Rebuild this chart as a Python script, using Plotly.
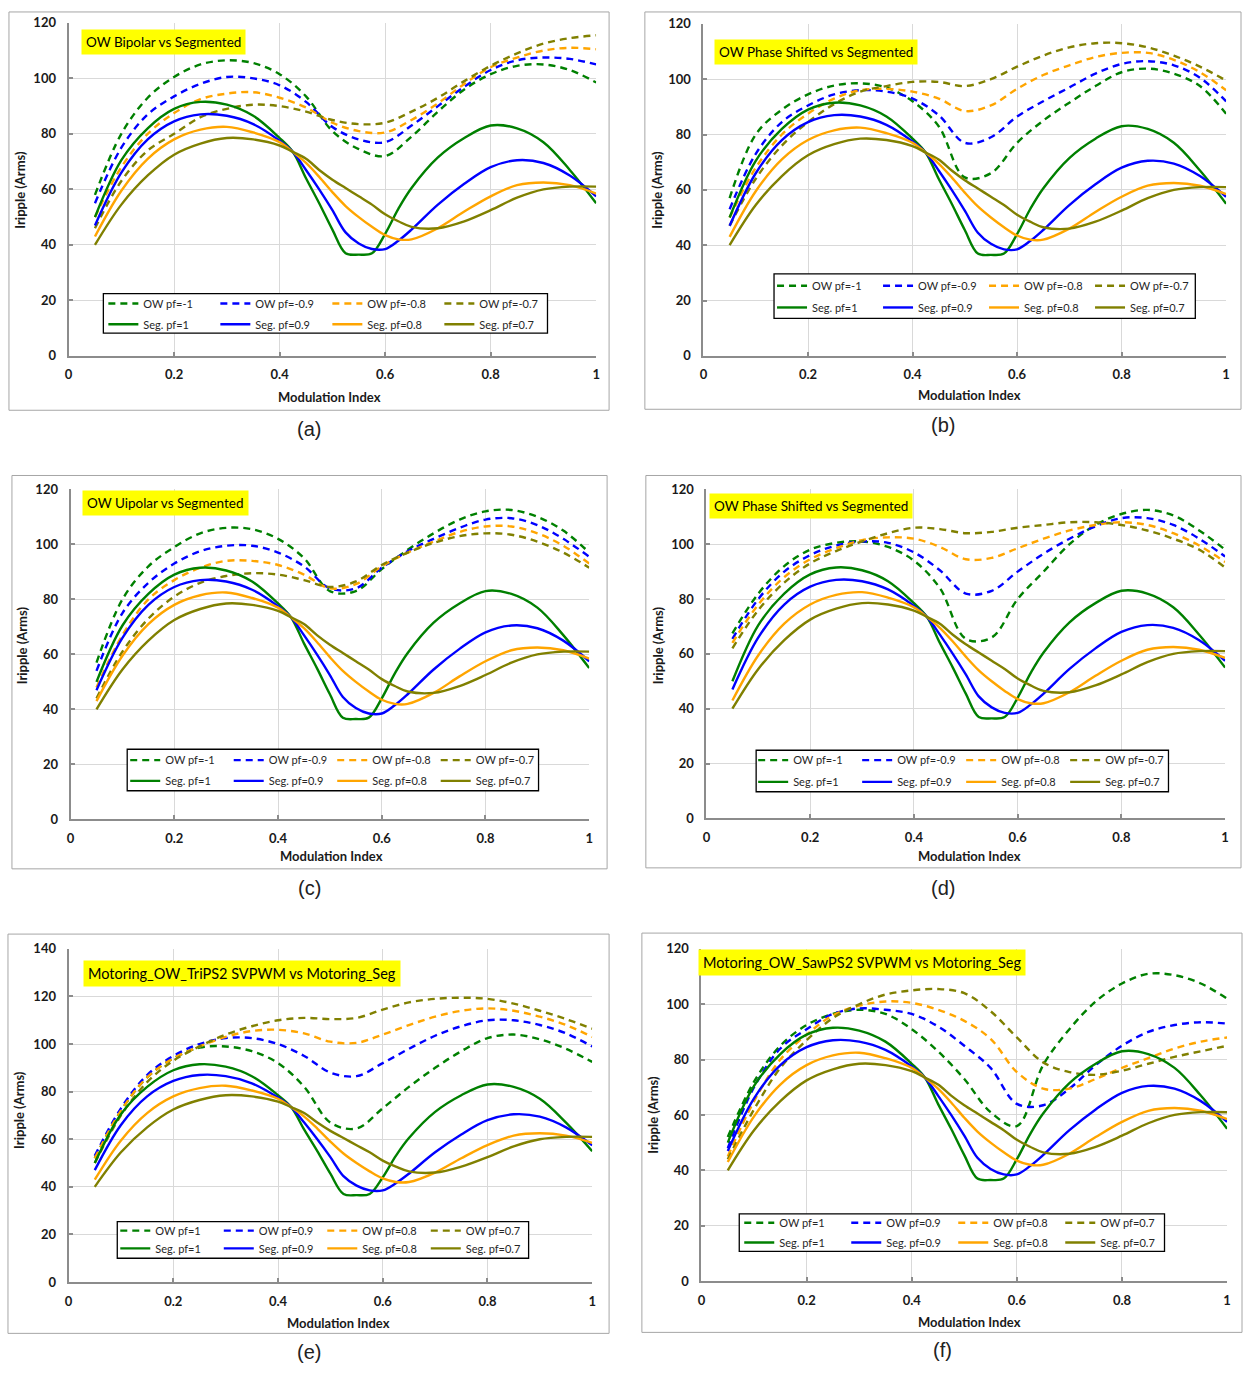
import plotly.graph_objects as go

W, H = 1247, 1373

# ---------------- data ----------------
MI = [0.05, 0.10, 0.15, 0.20, 0.25, 0.30, 0.35, 0.40, 0.45, 0.50,
      0.55, 0.60, 0.65, 0.70, 0.75, 0.80, 0.85, 0.90, 0.95, 1.00]
MI_SEG = [0.05, 0.10, 0.15, 0.20, 0.25, 0.30, 0.35, 0.40, 0.425, 0.45, 0.475, 0.50,
          0.525, 0.55, 0.575, 0.60, 0.625, 0.65, 0.70, 0.75, 0.80, 0.85, 0.90, 0.95, 1.00]

SEG_PF10 = [50, 70.5, 82, 89, 91.5, 90.5, 86.5, 78.5, 73.5, 64, 55, 45.5,
            37, 36.5, 37, 44, 53, 60.5, 71.5, 78.5, 83, 82, 77, 67, 55]
SEG_PF09 = [47, 66, 78, 84.5, 87, 86.5, 83.5, 77.5, 73.5, 67, 60, 52.5,
            44.5, 40.5, 38.5, 38.5, 41.5, 45.5, 54.5, 62, 68, 70.5, 69.5, 65, 57.5]
SEG_PF08 = [43, 59.5, 71, 78, 81.5, 82.5, 80.5, 77, 73.5, 69.5, 64.5, 59,
            54, 50, 46.5, 43.5, 42, 42, 46, 52, 57.5, 61.5, 62.5, 61.5, 58.5]
SEG_PF07 = [40, 54.5, 65, 72.5, 76.5, 78.5, 78, 75.8, 73.5, 71, 67, 63.5,
            60.5, 57.5, 54.5, 51, 48.5, 46.5, 46, 48.5, 52.5, 57, 60, 61, 61]

# (a) OW Bipolar
A_PF10 = [58, 80, 93, 100.5, 105, 106.5, 105.5, 101.5, 93.5, 81, 74.5, 72, 79, 88, 96, 101.5, 104.5, 105, 103, 98.5]
A_PF09 = [55, 75, 87, 93.5, 98, 100.5, 100, 97.5, 91.5, 82.5, 78, 77, 83, 90, 97, 103, 106.5, 107.5, 107, 105]
A_PF08 = [50, 68, 80, 87.5, 92.5, 94.5, 95, 93, 89.5, 84, 81, 80.5, 85, 91, 98, 104, 107.5, 110, 111, 110.5]
A_PF07 = [46, 63, 74, 80, 86, 89, 90.5, 90, 88, 85, 83.5, 84, 88, 93, 99, 104.5, 109, 112.5, 114.5, 115.5]
# (b) OW Phase Shifted
B_PF10 = [57, 80, 89, 94.5, 97.7, 98.5, 97, 92, 83, 64.5, 66, 77, 85, 91.5, 97.5, 102.5, 103.8, 102, 97.5, 87.5]
B_PF09 = [53, 73, 84.5, 90.5, 94.5, 96, 95.5, 93, 87, 77, 79, 86.5, 92, 97, 102, 105.5, 106.5, 105, 100.5, 92]
B_PF08 = [50, 68, 80, 87.5, 93, 96, 96.5, 95.5, 93, 88.5, 90.5, 96.5, 101.5, 105, 108, 109.5, 109.5, 107, 102.5, 96]
B_PF07 = [47, 64, 76, 84.5, 91, 95.5, 97.5, 99, 99, 97.5, 100, 104.5, 108.5, 111.5, 113, 113, 111.5, 108.5, 104.5, 99.5]
# (c) OW Uipolar
C_PF10 = [57, 80, 92, 99, 104, 106, 105.5, 102, 95, 83, 83, 91, 98, 104, 109, 112, 112.5, 110, 105, 97]
C_PF09 = [54, 75, 86, 93, 97.5, 99.5, 99.5, 97, 92, 84, 84, 91.5, 97.5, 102, 106, 109, 109.5, 107, 102, 95.5]
C_PF08 = [48, 67, 80, 87, 91.5, 94, 94, 92.5, 89, 84, 85.5, 92, 97, 101, 104.5, 106.5, 106.5, 104, 99.5, 93]
C_PF07 = [44, 61, 73, 81, 86, 88.5, 89.5, 89, 87, 84.5, 86.5, 92.5, 97, 100.5, 103, 104, 103.5, 101, 97, 91.5]
# (d) OW Phase Shifted
D_PF10 = [67.5, 82, 92, 98, 100.5, 101, 99, 94, 84, 65.5, 66, 80, 90, 100, 107, 111, 112.5, 110.5, 105, 98]
D_PF09 = [65.5, 80, 90, 96, 99.5, 101, 100.5, 97, 90.5, 82, 83, 90, 96.5, 102, 106.5, 109.5, 109.5, 107, 102, 95.5]
D_PF08 = [64, 78, 88, 94.5, 98.5, 101.5, 102.5, 102, 99, 94.5, 95, 98.5, 102, 105, 107, 108, 107, 104, 99.5, 93.5]
D_PF07 = [62, 76, 86, 93, 97.5, 101, 104, 106, 105.5, 104, 104.5, 106, 107, 108, 108, 107, 105, 102, 98, 91.5]
# (e) Motoring OW TriPS2 SVPWM
E_PF10 = [52, 72, 86, 94, 98.5, 99, 97, 92, 82, 67, 64.5, 73, 82, 90, 97, 102.5, 104, 102, 98, 92.5]
E_PF09 = [53, 73, 87, 95, 100, 102.5, 102.5, 100, 95, 88, 86.5, 92, 98, 103.5, 107.5, 110, 110, 108, 104.5, 99]
E_PF08 = [52, 72, 86, 94, 99, 103, 105.5, 106, 104.5, 101, 100.5, 104, 108, 111.5, 114, 115, 114, 111.5, 108, 103]
E_PF07 = [50, 70, 84, 93, 99, 104, 107.5, 110, 111, 110.5, 111, 114.5, 117.5, 119, 119.5, 119, 117, 114, 110.5, 106.5]
# (f) Motoring OW SawPS2 SVPWM
F_PF10 = [52, 72, 85, 92.5, 96.5, 98, 96.5, 91, 83, 73, 61, 56, 78, 91, 101, 107.5, 111, 110.5, 107.5, 102]
F_PF09 = [48, 70, 84, 91, 96.5, 98.5, 98, 96.5, 92, 85, 77, 64, 63.5, 69.5, 78, 85, 90, 92.5, 93.5, 93]
F_PF08 = [45, 65, 80, 89, 96, 99.5, 101, 100.5, 98, 94, 87.5, 75.5, 69.5, 69.5, 73, 77, 80.5, 84, 86.5, 88]
F_PF07 = [44, 62, 77, 87, 95, 100, 103.5, 105, 105.5, 104, 97.5, 88, 79, 75.5, 74.5, 76, 78.5, 81, 83, 85]

PF_LABELS = ["1", "0.9", "0.8", "0.7"]
X_TICKS = [0, 0.2, 0.4, 0.6, 0.8, 1.0]
X_TICK_TEXT = ["0", "0.2", "0.4", "0.6", "0.8", "1"]
TITLES = ["OW Bipolar vs Segmented", "OW Phase Shifted vs Segmented", "OW Uipolar vs Segmented",
          "OW Phase Shifted vs Segmented", "Motoring_OW_TriPS2 SVPWM vs Motoring_Seg",
          "Motoring_OW_SawPS2 SVPWM vs Motoring_Seg"]
CAPTIONS = ["(a)", "(b)", "(c)", "(d)", "(e)", "(f)"]

OW_DATA = [[A_PF10, A_PF09, A_PF08, A_PF07], [B_PF10, B_PF09, B_PF08, B_PF07],
           [C_PF10, C_PF09, C_PF08, C_PF07], [D_PF10, D_PF09, D_PF08, D_PF07],
           [E_PF10, E_PF09, E_PF08, E_PF07], [F_PF10, F_PF09, F_PF08, F_PF07]]
SEG_DATA = [SEG_PF10, SEG_PF09, SEG_PF08, SEG_PF07]
OW_NEG = [True, True, True, True, False, False]
Y_MAX = [120, 120, 120, 120, 140, 120]

# ---------------- layout (pixels) ----------------
COLORS = ["#008000", "#0000ff", "#ffa500", "#808000"]
FONT = "Lato"

LAYOUT = [
    dict(plot=(65, 15, 596, 352), box=(5, 4, 609, 407), cap=(307, 426), tbox=(161, 34), tsize=13.5,
         leg=(100, 289, 547, 329), sym=108, rows=(299, 320), pitch=112, ytitle=(16, 184), xtitle=(328, 394)),
    dict(plot=(704, 16, 1230, 352), box=(645, 4, 1245, 406), cap=(945, 422), tbox=(817, 45), tsize=13.5,
         leg=(775, 269, 1199, 314), sym=781, rows=(281, 303), pitch=106, ytitle=(657, 184), xtitle=(972, 392)),
    dict(plot=(67, 487, 589, 821), box=(8, 473, 607, 871), cap=(307, 890), tbox=(163, 501), tsize=13.5,
         leg=(124, 750, 538, 792), sym=130, rows=(761, 782), pitch=103.5, ytitle=(19, 645), xtitle=(330, 858)),
    dict(plot=(707, 487, 1229, 820), box=(646, 473, 1245, 870), cap=(945, 890), tbox=(812, 504), tsize=13.5,
         leg=(757, 751, 1172, 793), sym=762, rows=(761, 783), pitch=104, ytitle=(659, 645), xtitle=(972, 858)),
    dict(plot=(65, 952, 592, 1289), box=(4, 937, 609, 1341), cap=(307, 1360), tbox=(240, 977), tsize=14.5,
         leg=(114, 1228, 528, 1265), sym=120, rows=(1237, 1255), pitch=103.5, ytitle=(15, 1115), xtitle=(337, 1330)),
    dict(plot=(702, 952, 1231, 1288), box=(642, 936, 1246, 1340), cap=(945, 1358), tbox=(864, 966), tsize=14.5,
         leg=(740, 1220, 1168, 1258), sym=748, rows=(1229, 1249), pitch=107, ytitle=(653, 1120), xtitle=(972, 1329)),
]


def px(x):
    return x / W


def py(y):
    return 1 - y / H


fig = go.Figure()
layout = dict(width=W, height=H, margin=dict(l=0, r=0, t=0, b=0),
              paper_bgcolor="white", plot_bgcolor="white", showlegend=True,
              hovermode=False, shapes=[], annotations=[])

for i, p in enumerate(LAYOUT):
    n = i + 1
    xa = "xaxis" if n == 1 else f"xaxis{n}"
    ya = "yaxis" if n == 1 else f"yaxis{n}"
    xr = "x" if n == 1 else f"x{n}"
    yr = "y" if n == 1 else f"y{n}"
    l, t, r, b = p["plot"]
    common = dict(showgrid=True, gridcolor="#d9d9d9", gridwidth=1, showline=True,
                  linecolor="#8c8c8c", linewidth=2, ticks="inside", ticklen=4,
                  tickcolor="#8c8c8c", tickwidth=1.5, zeroline=False, fixedrange=True,
                  tickfont=dict(family=FONT, size=13, color="#1a1a1a", weight="bold"))
    layout[xa] = dict(domain=[px(l), px(r)], anchor=yr, range=[0, 1],
                      tickvals=X_TICKS, ticktext=X_TICK_TEXT, ticklabelstandoff=6, **common)
    layout[ya] = dict(domain=[py(b), py(t)], anchor=xr, range=[0, Y_MAX[i]],
                      tick0=0, dtick=20, ticklabelstandoff=8, **common)

    leg1 = 2 * i + 1
    leg2 = 2 * i + 2
    lname1 = "legend" if leg1 == 1 else f"legend{leg1}"
    lname2 = f"legend{leg2}"
    sign = "-" if OW_NEG[i] else ""
    for k in range(4):
        fig.add_trace(go.Scatter(
            x=MI, y=OW_DATA[i][k], mode="lines", xaxis=xr, yaxis=yr,
            name=f"OW pf={sign}{PF_LABELS[k]}", legend=lname1,
            line=dict(color=COLORS[k], width=2.4, dash="7px,5px", shape="spline", smoothing=1.0)))
    for k in range(4):
        fig.add_trace(go.Scatter(
            x=MI_SEG, y=SEG_DATA[k], mode="lines", xaxis=xr, yaxis=yr,
            name=f"Seg. pf={PF_LABELS[k]}", legend=lname2,
            line=dict(color=COLORS[k], width=2.4, shape="spline", smoothing=1.0)))

    for lname, ry in ((lname1, p["rows"][0]), (lname2, p["rows"][1])):
        layout[lname] = dict(x=px(p["sym"] - 8), y=py(ry), xanchor="left", yanchor="middle",
                             orientation="h", entrywidth=p["pitch"] - 45, entrywidthmode="pixels",
                             itemwidth=30, bgcolor="rgba(0,0,0,0)", borderwidth=0,
                             font=dict(family=FONT, size=11, color="#262626"),
                             itemclick=False, itemdoubleclick=False, tracegroupgap=0)

    # panel frame
    bl, bt, br, bb = p["box"]
    layout["shapes"].append(dict(type="rect", xref="paper", yref="paper",
                                 x0=px(bl), x1=px(br), y0=py(bb), y1=py(bt),
                                 line=dict(color="#a6a6a6", width=1), layer="below"))
    # legend frame
    gl, gt, gr, gb = p["leg"]
    layout["shapes"].append(dict(type="rect", xref="paper", yref="paper",
                                 x0=px(gl), x1=px(gr), y0=py(gb), y1=py(gt),
                                 fillcolor="white", line=dict(color="black", width=1.3), layer="above"))
    # yellow title label
    layout["annotations"].append(dict(xref="paper", yref="paper", x=px(p["tbox"][0]), y=py(p["tbox"][1]),
                                      xanchor="center", yanchor="middle", text=TITLES[i], showarrow=False,
                                      bgcolor="#ffff00", borderpad=4,
                                      font=dict(family=FONT, size=p["tsize"], color="black")))
    # axis titles
    layout["annotations"].append(dict(xref="paper", yref="paper", x=px(p["xtitle"][0]), y=py(p["xtitle"][1]),
                                      xanchor="center", yanchor="middle", text="Modulation Index",
                                      showarrow=False,
                                      font=dict(family=FONT, size=13, color="#1a1a1a", weight="bold")))
    layout["annotations"].append(dict(xref="paper", yref="paper", x=px(p["ytitle"][0]), y=py(p["ytitle"][1]),
                                      xanchor="center", yanchor="middle", text="Iripple (Arms)",
                                      textangle=-90, showarrow=False,
                                      font=dict(family=FONT, size=13, color="#1a1a1a", weight="bold")))
    # caption
    layout["annotations"].append(dict(xref="paper", yref="paper", x=px(p["cap"][0]), y=py(p["cap"][1]),
                                      xanchor="center", yanchor="middle", text=CAPTIONS[i], showarrow=False,
                                      font=dict(family="Liberation Sans", size=20, color="#222222")))

fig.update_layout(**layout)
fig.write_html("out.html")
